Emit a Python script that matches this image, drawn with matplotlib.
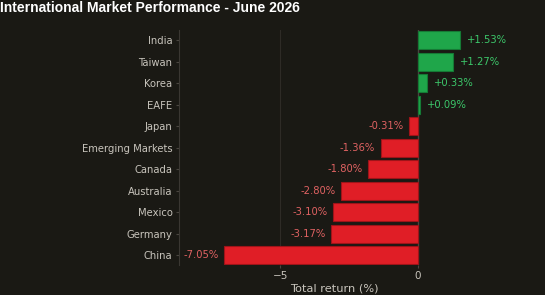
import numpy as np
import matplotlib.pyplot as plt

markets = ['India', 'Taiwan', 'Korea', 'EAFE', 'Japan', 'Emerging Markets',
           'Canada', 'Australia', 'Mexico', 'Germany', 'China']
returns = [1.53, 1.27, 0.33, 0.09, -0.31, -1.36, -1.80, -2.80, -3.10, -3.17, -7.05]

bg = '#1a1914'
pos_col = '#1fa64a'
neg_col = '#e01e26'

fig = plt.figure(figsize=(5.45, 2.95), dpi=100, facecolor=bg)
ax = fig.add_axes([0.328, 0.102, 0.57, 0.796], facecolor=bg)

y = np.arange(len(markets))
colors = [pos_col if r >= 0 else neg_col for r in returns]
edges = ['#157a35' if r >= 0 else '#9e1419' for r in returns]
ax.barh(y, returns, height=0.82, color=colors, edgecolor=edges, linewidth=0.8, zorder=3)

for yi, r in zip(y, returns):
    if r >= 0:
        ax.text(r + 0.25, yi, f'+{r:.2f}%', va='center', ha='left',
                color='#3cc76a', fontsize=7.2)
    else:
        ax.text(r - 0.2, yi, f'{r:.2f}%', va='center', ha='right',
                color='#e06262', fontsize=7.2)

ax.axvline(0, color='#4a4640', linewidth=1.0, zorder=2)
ax.axvline(-5, color='#2e2b26', linewidth=0.8, zorder=1)

ax.set_xlim(-8.7, 2.6)
ax.set_ylim(10.45, -0.47)
ax.set_yticks(y)
ax.set_yticklabels(markets)
ax.set_xticks([-5, 0])
ax.set_xticklabels(['\u22125', '0'])
ax.tick_params(colors='#4a4640', labelcolor='#c8c4bc', labelsize=7.2, length=2.5, pad=2)
ax.tick_params(axis='x', labelsize=7.5)
ax.set_xlabel('Total return (%)', color='#c8c4bc', fontsize=8.2, labelpad=2)

for s in ['top', 'right', 'bottom']:
    ax.spines[s].set_visible(False)
ax.spines['left'].set_color('#3a3732')

fig.text(0.0, 0.972, 'International Market Performance - June 2026',
         family='Liberation Sans', fontweight='bold', color='white',
         fontsize=10, ha='left', va='center')

fig.savefig('out.png', facecolor=bg)
